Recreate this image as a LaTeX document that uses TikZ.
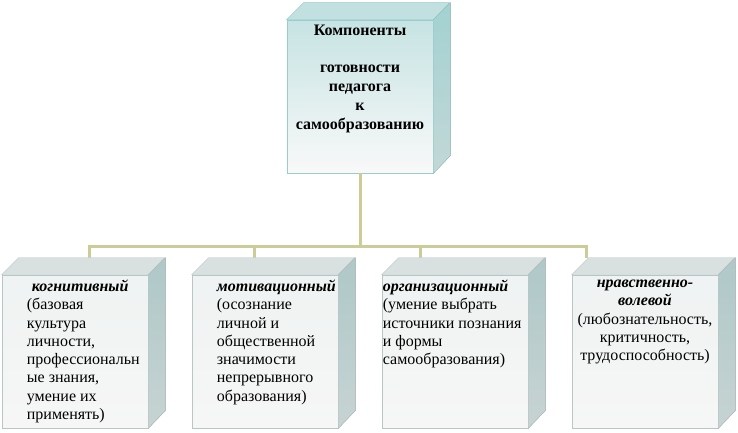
\documentclass[tikz,border=0pt]{standalone}
\usepackage{fontspec}
\setmainfont{Liberation Serif}
\usetikzlibrary{positioning}
\definecolor{turquoise}{HTML}{99CCCC}
\definecolor{kaki}{HTML}{CCCC99}
\definecolor{gristurq}{HTML}{B8C6C6}
\tikzstyle{cube} = [rectangle, minimum width=146pt, minimum height=153pt, inner sep=0pt]
\tikzstyle{cubeHaut} = [cube, draw=turquoise, line width=0.8pt, top color=turquoise!55!white, bottom color=gray!5]
\tikzstyle{cubeBas} = [cube, draw=gristurq, line width=0.6pt, top color=gristurq!22!white, bottom color=gray!7]
\tikzstyle{lien} = [draw=kaki, line width=3pt]
\tikzstyle{texte} = [inner sep=0pt, font=\fontsize{16}{18.3}\selectfont]

% faces du dessus et du cote
\newcommand{\faces}[4]{%
  \filldraw[draw=#2, fill=#3] (#1.north west) -- ++(17,-17) -- ++(146,0) -- (#1.north east) -- cycle;
  \filldraw[draw=#2, top color=#4, bottom color=#4!75!gray!60] (#1.north east) -- ++(17,-17) -- ++(0,153) -- (#1.south east) -- cycle;
}

\begin{document}
\begin{tikzpicture}[x=1pt,y=-1pt]

	\useasboundingbox (0,0) rectangle (738,432);

	\coordinate (bus) at (360,246);
	\coordinate (d1) at (89,258);
	\coordinate (d2) at (254.7,258);
	\coordinate (d3) at (420.3,258);
	\coordinate (d4) at (586,258);

	\node[cubeHaut] (comp) at (360,96.5) {};
	\node[cubeBas] (k1) at (75,351.5) {};
	\node[cubeBas] (k2) at (265,351.5) {};
	\node[cubeBas] (k3) at (455,351.5) {};
	\node[cubeBas] (k4) at (645,351.5) {};

	\draw[lien] (comp.south) -- (bus);
	\draw[lien] (d1) |- (bus) -| (d4);
	\draw[lien] (d2) -- (d2 |- bus);
	\draw[lien] (d3) -- (d3 |- bus);

	\faces{comp}{turquoise}{turquoise!60!white}{turquoise!90!white}
	\faces{k1}{gristurq}{gristurq!55!white}{turquoise!30!gristurq}
	\faces{k2}{gristurq}{gristurq!55!white}{turquoise!30!gristurq}
	\faces{k3}{gristurq}{gristurq!55!white}{turquoise!30!gristurq}
	\faces{k4}{gristurq}{gristurq!55!white}{turquoise!30!gristurq}

	\node[texte, font=\bfseries\fontsize{16}{19}\selectfont, align=center, below=5pt of comp.north] (titre)
		{Компоненты\\[18pt]готовности\\педагога\\к\\самообразованию};

	\node[texte, align=left, below right=5pt and 25pt of k1.north west] (t1)
		{\hspace*{5pt}\textbf{\textit{когнитивный}}\\(базовая\\культура\\личности,\\профессиональн\\ые знания,\\умение их\\применять)};

	\node[texte, align=left, below right=5pt and 25pt of k2.north west] (t2)
		{\textbf{\textit{мотивационный}}\\(осознание\\личной и\\общественной\\значимости\\непрерывного\\образования)};

	\node[texte, align=left, below right=5pt and 1pt of k3.north west] (t3)
		{\textbf{\textit{организационный}}\\(умение выбрать\\источники познания\\и формы\\самообразования)};

	\node[texte, align=center, below=5pt of k4.north] (t4)
		{\textbf{\textit{нравственно-}}\\\textbf{\textit{волевой}}\\(любознательность,\\критичность,\\трудоспособность)};

\end{tikzpicture}
\end{document}
